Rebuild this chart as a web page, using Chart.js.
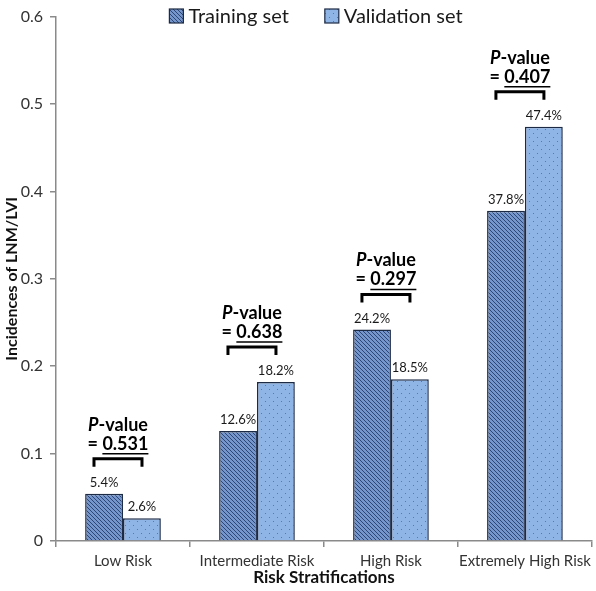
<!DOCTYPE html>
<html>
<head>
<meta charset="utf-8">
<script src="https://cdn.jsdelivr.net/npm/chart.js@4.4.1/dist/chart.umd.min.js"></script>
<style>
  html, body { margin: 0; padding: 0; background: #fff; }
  #canvas { display: block; }
</style>
</head>
<body>
<canvas id="canvas" width="596" height="591"></canvas>
<script>
const categories = ['Low Risk', 'Intermediate Risk', 'High Risk', 'Extremely High Risk'];
const trainingSet = [0.054, 0.126, 0.242, 0.378];
const validationSet = [0.026, 0.182, 0.185, 0.474];
const pValues = ['0.531', '0.638', '0.297', '0.407'];
const yMin = 0, yMax = 0.6, yStep = 0.1;

const FONT = 'Lato, "Open Sans", sans-serif';

// hatch for the training bars
function hatchPattern() {
    let c = document.createElement('canvas');
    c.width = 4; c.height = 4;
    let g = c.getContext('2d');
    g.fillStyle = '#7596cc';
    g.fillRect(0, 0, 4, 4);
    g.strokeStyle = '#2d4673';
    g.lineWidth = 1;
    g.beginPath();
    g.moveTo(0, 0); g.lineTo(4, 4);
    g.moveTo(-2, 2); g.lineTo(2, 6);
    g.moveTo(2, -2); g.lineTo(6, 2);
    g.stroke();
    return g.createPattern(c, 'repeat');
}

// dots for the validation bars
function dotPattern() {
    let c = document.createElement('canvas');
    c.width = 8; c.height = 8;
    let g = c.getContext('2d');
    g.fillStyle = '#8fb4e6';
    g.fillRect(0, 0, 8, 8);
    g.fillStyle = '#5578ad';
    g.fillRect(1, 1, 1, 1);
    g.fillRect(5, 5, 1, 1);
    return g.createPattern(c, 'repeat');
}

const ctx = document.getElementById('canvas').getContext('2d');

const annotations = {
    id: 'annotations',
    afterDatasetsDraw(chart) {
        const c = chart.ctx;
        const x = chart.scales.x;
        const m0 = chart.getDatasetMeta(0), m1 = chart.getDatasetMeta(1);

        // percentage labels above bars
        c.save();
        c.fillStyle = '#1a1a1a';
        c.font = '13px ' + FONT;
        c.textAlign = 'center';
        c.textBaseline = 'middle';
        chart.data.datasets.forEach((ds, di) => {
            chart.getDatasetMeta(di).data.forEach((bar, i) => {
                c.fillText((ds.data[i] * 100).toFixed(1) + '%', bar.x, bar.y - 11);
            });
        });

        // p-value brackets
        categories.forEach((cat, i) => {
            let top = Math.min(m0.data[i].y, m1.data[i].y);
            let by = top - 35;
            let cx = x.getPixelForValue(i) - 5;
            c.strokeStyle = '#000';
            c.lineWidth = 3;
            c.beginPath();
            c.moveTo(cx - 24, by + 8);
            c.lineTo(cx - 24, by);
            c.lineTo(cx + 24, by);
            c.lineTo(cx + 24, by + 8);
            c.stroke();

            c.fillStyle = '#000';
            c.textAlign = 'left';
            c.font = 'italic bold 18px ' + FONT;
            let wp = c.measureText('P').width;
            c.font = 'bold 18px ' + FONT;
            let wv = c.measureText('-value').width;
            let sx = cx - (wp + wv) / 2;
            c.font = 'italic bold 18px ' + FONT;
            c.fillText('P', sx, by - 34);
            c.font = 'bold 18px ' + FONT;
            c.fillText('-value', sx + wp, by - 34);

            let t = '= ' + pValues[i];
            let wt = c.measureText(t).width;
            c.fillText(t, cx - wt / 2, by - 15);
            // underline the number
            let wEq = c.measureText('= ').width;
            c.lineWidth = 1.5;
            c.beginPath();
            c.moveTo(cx - wt / 2 + wEq, by - 5);
            c.lineTo(cx + wt / 2, by - 5);
            c.stroke();
        });

        // legend
        c.font = '20px ' + FONT;
        c.textBaseline = 'middle';
        let items = chart.data.datasets.map(ds => ({ label: ds.label, fill: ds.backgroundColor, w: c.measureText(ds.label).width }));
        let gap = 36, box = 14;
        let total = items.reduce((s, it) => s + box + 5 + it.w, 0) + gap * (items.length - 1);
        let lx = 316 - total / 2;
        items.forEach(it => {
            c.fillStyle = it.fill;
            c.fillRect(lx, 9, box, box);
            c.strokeStyle = '#1d2a44';
            c.lineWidth = 1.2;
            c.strokeRect(lx, 9, box, box);
            c.fillStyle = '#1a1a1a';
            c.fillText(it.label, lx + box + 5, 17);
            lx += box + 5 + it.w + gap;
        });
        c.restore();
    }
};

window.myChart = new Chart(ctx, {
    type: 'bar',
    data: {
        labels: categories,
        datasets: [
            {
                label: 'Training set',
                data: trainingSet,
                backgroundColor: hatchPattern(),
                borderColor: '#1d2a44',
                borderWidth: 1.5
            },
            {
                label: 'Validation set',
                data: validationSet,
                backgroundColor: dotPattern(),
                borderColor: '#1d2a44',
                borderWidth: 1.5
            }
        ]
    },
    options: {
        responsive: false,
        animation: false,
        layout: { padding: { top: 5, right: 1, bottom: 0, left: 0 } },
        datasets: { bar: { categoryPercentage: 0.565, barPercentage: 1 } },
        plugins: {
            legend: { display: false },
            tooltip: { enabled: false }
        },
        scales: {
            x: {
                grid: { display: true, drawOnChartArea: false, offset: true, tickLength: 6, color: '#8a8a8a', lineWidth: 1.5 },
                border: { color: '#8a8a8a', width: 1.5 },
                ticks: { color: '#333', font: { family: FONT, size: 15 }, padding: 5, maxRotation: 0, autoSkip: false },
                title: { display: true, text: 'Risk Stratifications', color: '#111', font: { family: FONT, size: 17, weight: 'bold' }, padding: { top: 0, bottom: 3 } },
                afterFit(scale) { scale.height = 50; }
            },
            y: {
                min: yMin,
                max: yMax,
                grid: { drawOnChartArea: false, tickLength: 6, color: '#8a8a8a', lineWidth: 1.5 },
                border: { color: '#8a8a8a', width: 1.5 },
                ticks: { stepSize: yStep, color: '#333', font: { family: FONT, size: 16 }, padding: 7 },
                title: { display: true, text: 'Incidences of LNM/LVI', color: '#111', font: { family: FONT, size: 16, weight: 'bold' }, padding: { top: 2, bottom: 0 } },
                afterFit(scale) { scale.width = 56; }
            }
        }
    },
    plugins: [annotations]
});
</script>
</body>
</html>
